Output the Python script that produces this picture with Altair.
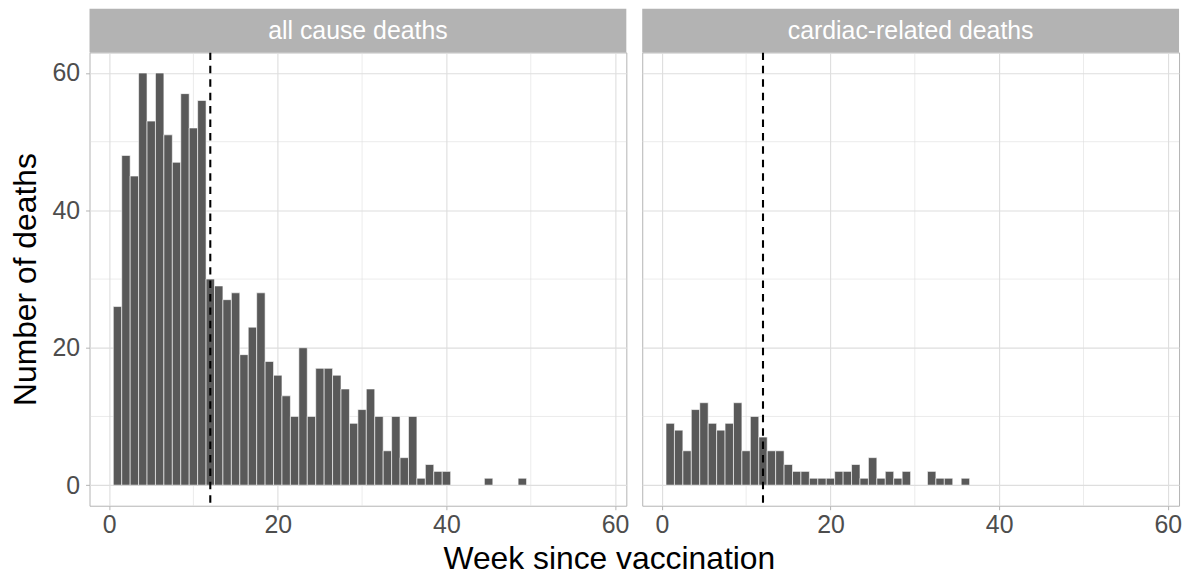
import altair as alt
import pandas as pd

weeks = list(range(1, 50))
all_cause = [26, 48, 45, 60, 53, 60, 51, 47, 57, 52, 56, 30,
             29, 27, 28, 19, 23, 28, 18, 16,
             13, 10, 20, 10, 17, 17, 16, 14, 9,
             11, 14, 10, 5, 10, 4, 10, 1, 3, 2, 2,
             0, 0, 0, 0, 1, 0, 0, 0, 1]
cardiac = [9, 8, 5, 11, 12, 9, 8, 9, 12, 5, 10, 7,
           5, 5, 3, 2, 2, 1, 1, 1,
           2, 2, 3, 1, 4, 1, 2, 1, 2,
           0, 0, 2, 1, 1, 0, 1,
           0, 0, 0, 0, 0, 0, 0, 0, 0, 0, 0, 0, 0]
panel_names = ["all cause deaths", "cardiac-related deaths"]
major_ticks = [0, 20, 40, 60]
minor_ticks = [10, 30, 50]
vline_week = 12

W, H = 540, 456
FONT = "Liberation Sans"
GRID = "#dedede"
BORDER = "#b3b3b3"

xscale = alt.Scale(domain=[-2.32, 61.33], nice=False, zero=False)
yscale = alt.Scale(domain=[-3, 63], nice=False, zero=False)


def panel(name, counts, left):
    df = pd.DataFrame({"week": weeks, "count": counts})
    df = df[df["count"] > 0]
    minor = pd.DataFrame({"v": minor_ticks})
    one = pd.DataFrame({"label": [name]})

    xaxis = alt.Axis(values=major_ticks, grid=True, gridColor=GRID, gridWidth=1.1,
                     domain=False, tickColor=BORDER, tickSize=4, tickWidth=1,
                     labelFontSize=25, labelColor="#4d4d4d", labelFont=FONT,
                     labelPadding=3, title=None)
    if left:
        yaxis = alt.Axis(values=major_ticks, grid=True, gridColor=GRID, gridWidth=1.1,
                         domain=False, tickColor=BORDER, tickSize=4, tickWidth=1,
                         labelFontSize=25, labelColor="#4d4d4d", labelFont=FONT,
                         labelPadding=6, title="Number of deaths", titleFontSize=32,
                         titleFont=FONT, titleFontWeight="normal", titleColor="black",
                         titlePadding=10)
    else:
        yaxis = alt.Axis(values=major_ticks, grid=True, gridColor=GRID, gridWidth=1.1,
                         domain=False, ticks=False, labels=False, title=None)

    gx = alt.Chart(minor).mark_rule(color=GRID, strokeWidth=0.6).encode(
        x=alt.X("v:Q", scale=xscale, axis=xaxis))
    gy = alt.Chart(minor).mark_rule(color=GRID, strokeWidth=0.6).encode(
        y=alt.Y("v:Q", scale=yscale, axis=yaxis))
    bars = alt.Chart(df).transform_calculate(
        x0="datum.week - 0.5", x1="datum.week + 0.5"
    ).mark_bar(fill="#595959", stroke="white", strokeWidth=0.6).encode(
        x=alt.X("x0:Q", scale=xscale, axis=xaxis),
        x2="x1:Q",
        y=alt.Y("count:Q", scale=yscale, axis=yaxis),
        y2=alt.datum(0),
    )
    vline = alt.Chart(one).mark_rule(color="black", strokeDash=[7.5, 6], strokeWidth=2.1).encode(
        x=alt.X(datum=vline_week, scale=xscale, axis=xaxis))
    strip = alt.Chart(one).mark_rect(color=BORDER).encode(
        x=alt.value(0), x2=alt.value(W), y=alt.value(-44), y2=alt.value(0))
    stext = alt.Chart(one).mark_text(color="white", fontSize=25, font=FONT,
                                     baseline="middle", align="center").encode(
        x=alt.value(W / 2), y=alt.value(-22), text="label:N")
    return alt.layer(gx, gy, bars, vline, strip, stext).properties(width=W, height=H)


chart = alt.hconcat(
    panel(panel_names[0], all_cause, True),
    panel(panel_names[1], cardiac, False),
    spacing=11,
).properties(
    title=alt.TitleParams("Week since vaccination", orient="bottom", anchor="middle",
                          fontSize=32, font=FONT, fontWeight="normal", color="black",
                          dx=14, offset=6),
    padding={"left": 0, "top": -2, "right": 2, "bottom": 0},
    background="white",
).configure_view(stroke=BORDER, strokeWidth=1)

chart.save("out.html", embed_options={"renderer": "svg", "actions": False})
